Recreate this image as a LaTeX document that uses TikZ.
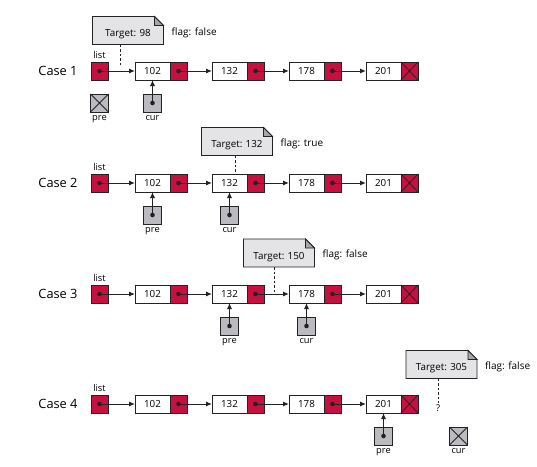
\documentclass[tikz,border=0pt]{standalone}
\usepackage{fontspec}
\setmainfont{Open Sans}
\usetikzlibrary{arrows.meta,calc,positioning,backgrounds}

\definecolor{listred}{RGB}{200,16,62}
\definecolor{refgray}{RGB}{186,186,192}
\definecolor{notegray}{RGB}{228,228,231}
\definecolor{foldgray}{RGB}{165,165,170}
\definecolor{linegray}{RGB}{35,35,35}

\tikzset{
  cell/.style={draw=linegray,line width=0.8pt,minimum height=18pt,inner sep=0pt,outer sep=0pt},
  val/.style={cell,fill=white,minimum width=35pt,font=\fontsize{9.8}{11}\selectfont},
  ptr/.style={cell,fill=listred,minimum width=17pt},
  ref/.style={cell,fill=refgray,minimum width=18pt},
  lbl/.style={font=\fontsize{9.3}{10}\selectfont,inner sep=1pt},
  case/.style={font=\fontsize{12.8}{14}\selectfont},
  note/.style={minimum width=71pt,minimum height=28pt,inner sep=0pt,outer sep=0pt,
    text height=12.5pt,text depth=0pt,font=\fontsize{9.8}{11}\selectfont},
  link/.style={line width=1pt,draw=linegray,-{Latex[length=6pt,width=5pt]}},
  hint/.style={line width=0.9pt,draw=linegray,dash pattern=on 2.5pt off 2pt},
}

\begin{document}
\begin{tikzpicture}[x=1pt,y=-1pt]
\useasboundingbox (0,0) rectangle (537,466);

% the four lists
\foreach \r/\y in {1/71,2/183,3/294,4/404} {
  \node[case] (case\r) at (58,\y) {Case \r};
  \node[ptr] (list\r) at (99.5,\y) {};
  \node[lbl,above=2pt of list\r] (name\r) {list};
  \foreach \k/\v/\x in {1/102/152.5,2/132/229.5,3/178/306.5,4/201/383.5} {
    \node[val] (v\r\k) at (\x,\y) {\v};
    \node[ptr,right=0pt of v\r\k] (p\r\k) {};
  }
  \draw[link] (list\r.center) -- (v\r1.west);
  \foreach \k/\m in {1/2,2/3,3/4}
    \draw[link] (p\r\k.center) -- (v\r\m.west);
  \foreach \n in {list\r,p\r1,p\r2,p\r3}
    \fill[linegray] (\n) circle (2.3pt);
  % null pointer
  \draw[linegray,line width=0.8pt] (p\r4.north west) -- (p\r4.south east)
    (p\r4.north east) -- (p\r4.south west);
}

% pre and cur
\node[ref,below=14pt of list1] (pre1) {};
\node[ref,below=14pt of v11] (cur1) {};
\node[ref,below=14pt of v21] (pre2) {};
\node[ref,below=14pt of v22] (cur2) {};
\node[ref,below=14pt of v32] (pre3) {};
\node[ref,below=14pt of v33] (cur3) {};
\node[ref,below=14pt of v44] (pre4) {};
\node[ref,right=57pt of pre4] (cur4) {};
\foreach \n/\t in {pre1/pre,cur1/cur,pre2/pre,cur2/cur,pre3/pre,cur3/cur,pre4/pre,cur4/cur}
  \node[lbl,below=2.5pt of \n] (\n-lbl) {\t};
\foreach \n/\m in {cur1/v11,pre2/v21,cur2/v22,pre3/v32,cur3/v33,pre4/v44} {
  \draw[link] (\n.center) -- (\m.south);
  \fill[linegray] (\n) circle (2.3pt);
}
\foreach \n in {pre1,cur4}
  \draw[linegray,line width=0.8pt] (\n.north west) -- (\n.south east)
    (\n.north east) -- (\n.south west);

% targets
\node[note] (note1) at (128,30.5) {Target: 98};
\node[note] (note2) at (237,141.5) {Target: 132};
\node[note] (note3) at (279,253) {Target: 150};
\node[note] (note4) at (441.5,364.5) {Target: 305};
\begin{scope}[on background layer]
\foreach \n in {note1,note2,note3,note4} {
  \filldraw[fill=notegray,draw=linegray,line width=0.8pt] (\n.south west) -- (\n.north west)
    -- ([xshift=-9pt]\n.north east) -- ([yshift=-9pt]\n.north east) -- (\n.south east) -- cycle;
  \filldraw[fill=foldgray,draw=linegray,line width=0.8pt] ([xshift=-9pt]\n.north east)
    -- ([xshift=-9pt,yshift=-9pt]\n.north east) -- ([yshift=-9pt]\n.north east) -- cycle;
}
\end{scope}
\foreach \n/\t in {note1/false,note2/true,note3/false,note4/false}
  \node[lbl,anchor=west,font=\fontsize{10}{11}\selectfont] (\n-flag) at ([xshift=7pt,yshift=-2pt]\n.east) {flag: \t};

% where the search stops
\coordinate (end1) at (120,66);
\coordinate (end2) at (235,0);
\coordinate (end3) at (274,294);
\node[lbl] (q4) at (438,408) {?};
\draw[hint] (end1 |- note1.south) -- (end1);
\draw[hint] (end2 |- note2.south) -- (end2 |- v22.north);
\draw[hint] (end3 |- note3.south) -- (end3);
\draw[hint] ([xshift=-3.5pt]note4.south) -- (q4.north);
\end{tikzpicture}
\end{document}
